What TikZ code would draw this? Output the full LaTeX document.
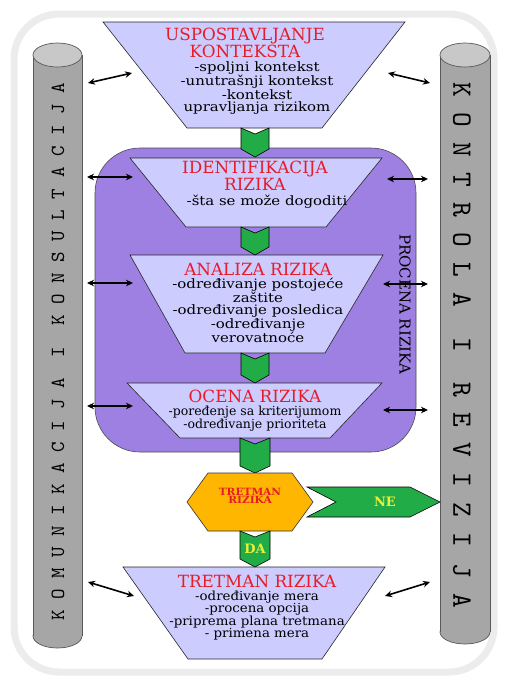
\documentclass[tikz,border=0pt]{standalone}
\usepackage{fontspec}
\setmainfont{DejaVu Serif}
\newfontfamily\pillarfont[Extension=.otf]{lmmono10-regular}
\usetikzlibrary{arrows.meta}

\definecolor{boxfill}{RGB}{204,204,255}
\definecolor{procfill}{RGB}{158,128,226}
\definecolor{flowgreen}{RGB}{34,172,72}
\definecolor{hexorange}{RGB}{255,182,0}
\definecolor{titlered}{RGB}{232,28,40}
\definecolor{neyellow}{RGB}{232,240,60}
\definecolor{cylbody}{RGB}{166,166,166}
\definecolor{cyltop}{RGB}{200,200,200}
\definecolor{frame}{RGB}{236,236,236}

\begin{document}
\begin{tikzpicture}[
    x=1pt, y=-1pt,
    trap/.style={draw=black!85, fill=boxfill, line width=0.6pt},
    flow/.style={draw=black, fill=flowgreen, line width=0.6pt},
    title/.style={text=titlered, font=\fontsize{16.8}{11}\selectfont, align=center, inner sep=0pt, anchor=north},
    body/.style={font=\fontsize{13}{12}\selectfont\addfontfeature{FakeStretch=1.15}, align=center, inner sep=0pt, anchor=north},
    answer/.style={text=neyellow, font=\bfseries\fontsize{13}{13}\selectfont},
    link/.style={{Stealth[length=7pt,width=6.5pt]}-{Stealth[length=7pt,width=6.5pt]}, line width=1.6pt},
    cyl/.style={draw=black!65, line width=0.7pt}
]
    \useasboundingbox (0,0) rectangle (506,681);
    \fill[white] (0,0) rectangle (506,681);
    \draw[frame, line width=7pt, rounded corners=45pt] (14,14) rectangle (494,672);

    % Pillars
    \filldraw[cyl, fill=cylbody] (57.5,636) ellipse [x radius=24.5, y radius=12];
    \fill[cylbody] (33,55) rectangle (82,636);
    \draw[cyl] (33,55) -- (33,636) (82,55) -- (82,636);
    \filldraw[cyl, fill=cyltop] (57.5,55) ellipse [x radius=24.5, y radius=12];
    \node[rotate=90, font=\pillarfont\fontsize{20}{20}\selectfont\addfontfeature{LetterSpace=53}] (kom) at (58,352) {KOMUNIKACIJA I KONSULTACIJA};

    \filldraw[cyl, fill=cylbody] (465,632) ellipse [x radius=25, y radius=12];
    \fill[cylbody] (440,55) rectangle (490,632);
    \draw[cyl] (440,55) -- (440,632) (490,55) -- (490,632);
    \filldraw[cyl, fill=cyltop] (465,55) ellipse [x radius=25, y radius=12];
    \node[rotate=-90, font=\pillarfont\fontsize{28}{28}\selectfont\addfontfeature{LetterSpace=55}] (kon) at (462,345) {KONTROLA I REVIZIJA};

    % Procena rizika
    \draw[draw=black!70, fill=procfill, line width=0.6pt, rounded corners=45pt] (95,148) rectangle (416,452);
    \node[rotate=-90, font=\fontsize{15}{15}\selectfont] (procena) at (405,304) {PROCENA RIZIKA};

    % Uspostavljanje konteksta
    \draw[trap] (103,22) -- (405,22) -- (322,128) -- (187,128) -- cycle;
    \node[title] (usp) at (245,28) {USPOSTAVLJANJE\\KONTEKSTA};
    \node[body] (uspT) at (257,61) {-spoljni kontekst\\-unutrašnji kontekst\\-kontekst\\upravljanja rizikom};

    % Identifikacija
    \draw[trap] (130,158) -- (382,158) -- (326,227) -- (186,227) -- cycle;
    \node[title, font=\fontsize{16.8}{10.5}\selectfont] (ident) at (255,161) {IDENTIFIKACIJA\\RIZIKA};
    \node[body] (identT) at (267,195) {-šta se može dogoditi};

    % Analiza
    \draw[trap] (130,255) -- (383,255) -- (325,353) -- (185,353) -- cycle;
    \node[title] (analiza) at (258,263) {ANALIZA RIZIKA};
    \node[body, font=\fontsize{13}{11.5}\selectfont\addfontfeature{FakeStretch=1.15}] (analizaT) at (258,278) {-određivanje postojeće\\zaštite\\-određivanje posledica\\-određivanje\\verovatnoće};

    % Ocena
    \draw[trap] (127,383) -- (382,383) -- (330,438) -- (180,438) -- cycle;
    \node[title] (ocena) at (255,390) {OCENA RIZIKA};
    \node[body, font=\fontsize{12.5}{12}\selectfont] (ocenaT) at (255,406) {-poređenje sa kriterijumom\\-određivanje prioriteta};

    % Tretman
    \draw[trap] (123,567) -- (385,567) -- (322,659) -- (188,659) -- cycle;
    \node[title] (tretman) at (257,575) {TRETMAN RIZIKA};
    \node[body, font=\fontsize{12.5}{12}\selectfont\addfontfeature{FakeStretch=1.07}] (tretmanT) at (257,591) {-određivanje mera\\-procena opcija\\-priprema plana tretmana\\- primena mera};

    % Green chevrons
    \draw[flow] (241,128) -- (255,134) -- (269,128) -- (269,149) -- (255,157) -- (241,149) -- cycle;
    \draw[flow] (241,227) -- (255,233) -- (269,227) -- (269,247) -- (255,255) -- (241,247) -- cycle;
    \draw[flow] (241,353) -- (255,359) -- (269,353) -- (269,375) -- (255,383) -- (241,375) -- cycle;
    \draw[flow] (240,438) -- (255,444) -- (270,438) -- (270,466) -- (255,473) -- (240,466) -- cycle;

    % Odluka
    \draw[draw=black!80, fill=hexorange, line width=0.6pt] (187,502) -- (208,473) -- (292,473) -- (313,502) -- (292,531) -- (208,531) -- cycle;
    \node[text=titlered, font=\bfseries\fontsize{10}{8.5}\selectfont\addfontfeature{FakeStretch=1.06}, align=center, inner sep=0pt] (odluka) at (250,496) {TRETMAN\\RIZIKA};
    \draw[flow] (307,487) -- (410,487) -- (440,502) -- (410,517) -- (307,517) -- (336,502) -- cycle;
    \node[answer] (ne) at (385,502) {NE};
    \draw[flow] (240,531) -- (255,537) -- (270,531) -- (270,559) -- (255,567) -- (240,559) -- cycle;
    \node[answer] (da) at (255,549) {DA};

    % Links to the pillars
    \foreach \n/\xa/\ya/\xb/\yb in {1/88/83/132/73, 2/87/177/133/177, 3/87/283/133/283, 4/87/406/133/406, 5/88/582/134/596}{
        \coordinate (la\n) at (\xa,\ya);
        \coordinate (lb\n) at (\xb,\yb);
        \draw[link] (la\n) -- (lb\n);
    }
    \foreach \n/\xa/\ya/\xb/\yb in {1/388/73/430/83, 2/387/179/428/179, 3/383/284/428/284, 4/383/410/428/410, 5/385/596/430/582}{
        \coordinate (ra\n) at (\xa,\ya);
        \coordinate (rb\n) at (\xb,\yb);
        \draw[link] (ra\n) -- (rb\n);
    }
\end{tikzpicture}
\end{document}
